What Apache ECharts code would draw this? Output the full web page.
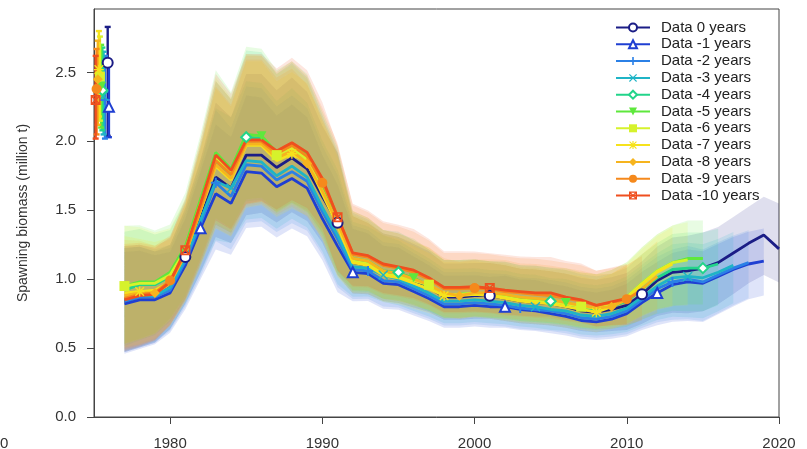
<!DOCTYPE html>
<html>
<head>
<meta charset="utf-8">
<script src="https://cdn.jsdelivr.net/npm/echarts@6/dist/echarts.min.js"></script>
<style>
  html, body { margin: 0; padding: 0; background: #fff; }
  #chart { width: 807px; height: 449px; }
</style>
</head>
<body>
<div id="chart"></div>
<script>
// retrospective runs, all start in 1977; "Data -k years" ends in 2020 - k
const firstYear = 1977

const names = [
  'Data 0 years', 'Data -1 years', 'Data -2 years', 'Data -3 years', 'Data -4 years', 'Data -5 years',
  'Data -6 years', 'Data -7 years', 'Data -8 years', 'Data -9 years', 'Data -10 years'
]

const data0 = [0.84, 0.87, 0.87, 0.94, 1.16, 1.44, 1.74, 1.66, 1.90, 1.90, 1.81, 1.88, 1.80, 1.60, 1.41, 1.12, 1.10, 1.04, 1.02, 0.98, 0.94, 0.87, 0.87, 0.88, 0.88, 0.86, 0.84, 0.83, 0.82, 0.80, 0.77, 0.76, 0.78, 0.81, 0.89, 0.99, 1.05, 1.06, 1.08, 1.12, 1.19, 1.26, 1.32, 1.22]
const dataM1 = [0.82, 0.85, 0.85, 0.90, 1.10, 1.37, 1.62, 1.55, 1.78, 1.77, 1.67, 1.73, 1.66, 1.44, 1.24, 1.05, 1.04, 0.97, 0.96, 0.91, 0.86, 0.80, 0.80, 0.81, 0.80, 0.80, 0.78, 0.77, 0.75, 0.73, 0.70, 0.69, 0.71, 0.75, 0.83, 0.90, 0.96, 0.98, 0.97, 1.02, 1.07, 1.11, 1.13]
const dataM2 = [0.84, 0.87, 0.87, 0.92, 1.13, 1.40, 1.70, 1.60, 1.83, 1.82, 1.72, 1.78, 1.71, 1.49, 1.29, 1.07, 1.06, 0.99, 0.98, 0.93, 0.88, 0.82, 0.82, 0.83, 0.82, 0.81, 0.79, 0.78, 0.77, 0.75, 0.72, 0.71, 0.73, 0.77, 0.85, 0.93, 0.98, 1.00, 0.98, 1.03, 1.08, 1.12]
const dataM3 = [0.85, 0.88, 0.88, 0.94, 1.15, 1.43, 1.71, 1.66, 1.86, 1.85, 1.75, 1.82, 1.74, 1.52, 1.32, 1.09, 1.08, 1.03, 1.00, 0.95, 0.90, 0.84, 0.84, 0.85, 0.84, 0.83, 0.81, 0.80, 0.78, 0.77, 0.74, 0.73, 0.75, 0.79, 0.87, 0.95, 1.01, 1.02, 1.01, 1.05, 1.10]
const dataM4 = [0.92, 0.96, 0.96, 1.02, 1.20, 1.52, 1.86, 1.76, 2.03, 2.02, 1.90, 1.96, 1.88, 1.66, 1.42, 1.14, 1.12, 1.06, 1.05, 1.00, 0.95, 0.89, 0.89, 0.90, 0.89, 0.88, 0.86, 0.85, 0.84, 0.82, 0.79, 0.78, 0.80, 0.84, 0.93, 1.01, 1.07, 1.08, 1.08, 1.11]
const dataM5 = [0.95, 0.98, 0.98, 1.05, 1.24, 1.58, 1.92, 1.80, 2.05, 2.04, 1.92, 1.97, 1.90, 1.68, 1.44, 1.15, 1.13, 1.06, 1.04, 1.01, 0.95, 0.89, 0.89, 0.90, 0.89, 0.88, 0.86, 0.85, 0.84, 0.83, 0.80, 0.79, 0.82, 0.87, 0.97, 1.06, 1.12, 1.15, 1.15]
const dataM6 = [0.95, 0.97, 0.97, 1.03, 1.21, 1.55, 1.88, 1.77, 2.01, 2.00, 1.90, 1.95, 1.87, 1.64, 1.40, 1.13, 1.11, 1.04, 1.02, 0.99, 0.96, 0.89, 0.89, 0.90, 0.89, 0.87, 0.85, 0.84, 0.83, 0.82, 0.80, 0.79, 0.82, 0.87, 0.97, 1.06, 1.12, 1.14]
const dataM7 = [0.90, 0.91, 0.92, 0.98, 1.18, 1.50, 1.82, 1.72, 1.97, 1.97, 1.86, 1.91, 1.85, 1.62, 1.39, 1.12, 1.10, 1.03, 1.01, 0.97, 0.93, 0.88, 0.88, 0.89, 0.88, 0.86, 0.84, 0.83, 0.82, 0.80, 0.78, 0.76, 0.80, 0.86, 0.96, 1.05, 1.11]
const dataM8 = [0.88, 0.90, 0.90, 0.97, 1.18, 1.50, 1.83, 1.73, 1.98, 1.98, 1.88, 1.93, 1.84, 1.64, 1.41, 1.15, 1.13, 1.06, 1.04, 1.00, 0.96, 0.90, 0.88, 0.90, 0.90, 0.89, 0.87, 0.86, 0.85, 0.83, 0.81, 0.79, 0.80, 0.85, 0.93, 1.02]
const dataM9 = [0.86, 0.89, 0.90, 0.99, 1.19, 1.52, 1.86, 1.76, 2.00, 2.00, 1.91, 1.97, 1.89, 1.70, 1.46, 1.18, 1.16, 1.10, 1.08, 1.05, 1.00, 0.93, 0.93, 0.935, 0.93, 0.91, 0.90, 0.89, 0.88, 0.86, 0.84, 0.81, 0.83, 0.855, 0.92]
const dataM10 = [0.85, 0.88, 0.89, 0.98, 1.21, 1.55, 1.90, 1.79, 2.01, 2.01, 1.93, 1.99, 1.92, 1.73, 1.45, 1.19, 1.17, 1.11, 1.09, 1.065, 1.01, 0.94, 0.94, 0.945, 0.935, 0.92, 0.91, 0.90, 0.90, 0.87, 0.85, 0.81, 0.835, 0.86]

const runs = [data0, dataM1, dataM2, dataM3, dataM4, dataM5, dataM6, dataM7, dataM8, dataM9, dataM10]

// interval width relative to the estimate, per year from 1977 (read off the shaded bands)
const bandHi = [1.46, 1.42, 1.38, 1.33, 1.31, 1.30, 1.31, 1.31, 1.31, 1.31, 1.31, 1.31, 1.31, 1.32, 1.36, 1.30, 1.28, 1.28, 1.28, 1.28, 1.28, 1.28, 1.28, 1.27, 1.27, 1.28, 1.28, 1.29, 1.29, 1.30, 1.31, 1.31, 1.30, 1.29, 1.27, 1.25, 1.24, 1.24, 1.24, 1.23, 1.22, 1.21, 1.21, 1.27]
const bandLo = [0.56, 0.58, 0.62, 0.68, 0.71, 0.73, 0.75, 0.76, 0.77, 0.78, 0.78, 0.79, 0.79, 0.79, 0.73, 0.80, 0.81, 0.81, 0.81, 0.81, 0.81, 0.81, 0.81, 0.81, 0.81, 0.81, 0.81, 0.81, 0.81, 0.81, 0.81, 0.81, 0.80, 0.78, 0.76, 0.74, 0.72, 0.71, 0.71, 0.73, 0.75, 0.77, 0.78, 0.80]

// unfished biomass estimates drawn at the left edge
const b0Year = [1975.90, 1975.98, 1975.72, 1975.63, 1975.55, 1975.47, 1975.39, 1975.32, 1975.25, 1975.17, 1975.11]
const b0Est = [2.57, 2.25, 2.30, 2.33, 2.37, 2.40, 2.47, 2.52, 2.45, 2.38, 2.30]
const b0Lo = [2.04, 2.03, 2.02, 2.05, 2.08, 2.10, 2.15, 2.18, 2.12, 2.05, 2.02]
const b0Hi = [2.83, 2.58, 2.62, 2.65, 2.68, 2.70, 2.76, 2.80, 2.73, 2.67, 2.62]

const xTicks = [1980, 1990, 2000, 2010, 2020]
const yTicks = [0, 0.5, 1, 1.5, 2, 2.5]

const colors = ['#1b1d86', '#1f3fd2', '#2b80e6', '#1fb4c6', '#22d48a', '#5ee83c', '#d6f22c', '#f6e21c', '#f6b41e', '#f5891c', '#ef4f1f']
const symbols = [
  'emptyCircle',
  'emptyTriangle',
  'path://M4,0H6V4H10V6H6V10H4V6H0V4H4Z',
  'path://M1,0L5,4L9,0L10,1L6,5L10,9L9,10L5,6L1,10L0,9L4,5L0,1Z',
  'emptyDiamond',
  'path://M0,0H10L5,9Z',
  'rect',
  'path://M4.3,0H5.7V10H4.3Z M0,4.3H10V5.7H0Z M1.2,0.2L5,4L8.8,0.2L9.8,1.2L6,5L9.8,8.8L8.8,9.8L5,6L1.2,9.8L0.2,8.8L4,5L0.2,1.2Z',
  'diamond',
  'circle',
  'path://M0,0H10V10H0Z M1.6,1.6V8.4H8.4V1.6Z M1,2L2,1L5,4L8,1L9,2L6,5L9,8L8,9L5,6L2,9L1,8L4,5Z'
]

const chart = echarts.init(document.getElementById('chart'))
const series = []

// shaded intervals: one polygon per run, drawn through the axis scales
runs.forEach((vals, k) => {
  const band = vals.map((v, i) => [firstYear + i, v * bandLo[i], v * bandHi[i]])
  series.push({
    name: 'band ' + k,
    type: 'custom',
    z: 1,
    silent: true,
    clip: true,
    data: band,
    renderItem: (params, api) => {
      if (params.dataIndex !== 0) return null
      const upper = band.map((d) => api.coord([d[0], d[2]]))
      const lower = band.map((d) => api.coord([d[0], d[1]])).reverse()
      return {
        type: 'polygon',
        shape: { points: upper.concat(lower) },
        style: { fill: colors[k], opacity: 0.14 }
      }
    }
  })
})

runs.forEach((vals, k) => {
  series.push({
    name: names[k],
    type: 'line',
    z: 5,
    symbol: symbols[k],
    symbolSize: 10,
    symbolKeepAspect: true,
    showSymbol: true,
    lineStyle: { width: 2.8, color: colors[k] },
    itemStyle: { color: colors[k], borderWidth: 1.8 },
    emphasis: { disabled: true },
    // a marker every ten years, shifted one year per run
    data: vals.map((v, i) => {
      const year = firstYear + i
      return (year - 1981 - k) % 10 === 0 ? [year, v] : { value: [year, v], symbol: 'none' }
    })
  })
})

runs.forEach((vals, k) => {
  series.push({
    name: 'b0 bar ' + k,
    type: 'custom',
    z: 4,
    silent: true,
    data: [[b0Year[k], b0Lo[k], b0Hi[k]]],
    renderItem: (params, api) => {
      const top = api.coord([api.value(0), api.value(2)])
      const bot = api.coord([api.value(0), api.value(1)])
      const style = { stroke: colors[k], lineWidth: 2.4 }
      return {
        type: 'group',
        children: [
          { type: 'line', shape: { x1: top[0], y1: top[1], x2: bot[0], y2: bot[1] }, style },
          { type: 'line', shape: { x1: top[0] - 3, y1: top[1], x2: top[0] + 3, y2: top[1] }, style },
          { type: 'line', shape: { x1: bot[0] - 3, y1: bot[1], x2: bot[0] + 3, y2: bot[1] }, style }
        ]
      }
    }
  })
  series.push({
    name: 'b0 ' + k,
    type: 'scatter',
    z: 6,
    silent: true,
    symbol: symbols[k],
    symbolSize: 10,
    symbolKeepAspect: true,
    itemStyle: { color: colors[k], borderWidth: 1.8, opacity: 1 },
    data: [[b0Year[k], b0Est[k]]]
  })
})

chart.setOption({
  animation: false,
  textStyle: { fontFamily: 'Liberation Sans, Arial, sans-serif' },
  grid: {
    left: 94, right: 28, top: 9, bottom: 32,
    show: true, borderColor: '#444', borderWidth: 1,
    outerBoundsMode: 'none'
  },
  legend: {
    data: names,
    orient: 'vertical',
    left: 610,
    top: 15,
    itemWidth: 34,
    itemHeight: 10,
    itemGap: 1.8,
    textStyle: { fontSize: 15, color: '#222', padding: [0, 0, 0, 6] }
  },
  graphic: [
    { type: 'text', left: 0, top: 436, style: { text: '0', fontSize: 15, fill: '#333', fontFamily: 'Liberation Sans, Arial, sans-serif' } }
  ],
  xAxis: {
    type: 'value',
    min: 1975,
    max: 2020,
    splitLine: { show: false },
    axisLine: { lineStyle: { color: '#444' } },
    axisTick: { length: 7, customValues: xTicks, lineStyle: { color: '#444' } },
    axisLabel: { customValues: xTicks, fontSize: 15, color: '#333', margin: 19, formatter: (v) => String(v) }
  },
  yAxis: {
    type: 'value',
    min: 0,
    max: 2.96,
    name: 'Spawning biomass (million t)',
    nameLocation: 'middle',
    nameGap: 64,
    nameTextStyle: { fontSize: 14, color: '#333' },
    splitLine: { show: false },
    axisLine: { show: true, lineStyle: { color: '#444' } },
    axisTick: { show: true, length: 7, customValues: yTicks, lineStyle: { color: '#444' } },
    axisLabel: { customValues: yTicks, fontSize: 15, color: '#333', margin: 18, formatter: (v) => v.toFixed(1) }
  },
  series
})
</script>
</body>
</html>
